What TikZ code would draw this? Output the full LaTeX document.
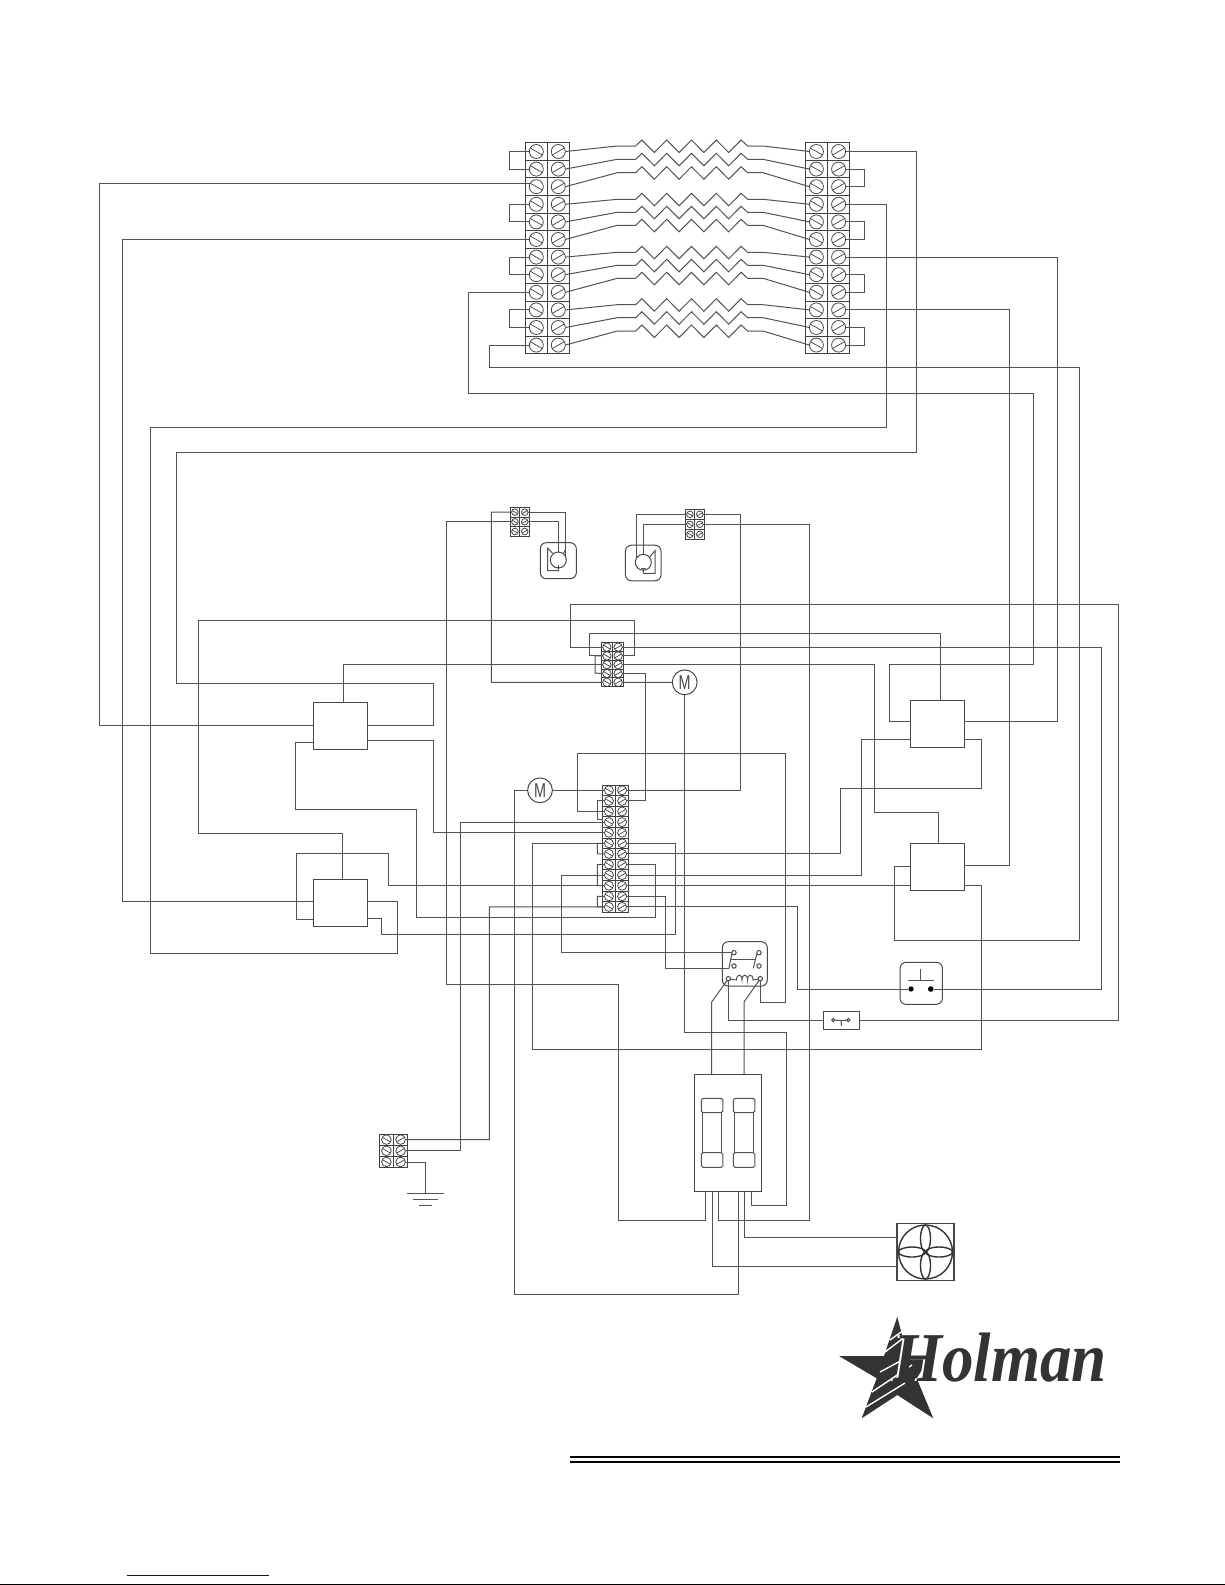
\documentclass[tikz,border=0pt]{standalone}
\usepackage{fontspec}
\newfontfamily\labelfont{Liberation Sans}
\newfontfamily\logofont{Liberation Serif}
\begin{document}
\begin{tikzpicture}[x=0.5pt,y=-0.5pt]
    \tikzstyle{wire}=[line width=0.5pt,color=black!68]
    \tikzstyle{strip}=[line width=0.42pt,color=black!75]
    \tikzstyle{every node}=[inner sep=0pt,outer sep=0pt,line width=0.5pt,color=black!72]
    \tikzstyle{screw}=[circle,draw,line width=0.4pt]
    \tikzstyle{relaybox}=[rectangle,draw,minimum width=27pt,minimum height=23.3pt]
    \tikzstyle{motor}=[circle,draw,minimum size=12.4pt,font=\labelfont\fontsize{10}{11}\selectfont]
    \tikzstyle{housing}=[rectangle,draw,rounded corners=3pt]
    \tikzstyle{contact}=[circle,draw,minimum size=2.2pt]
    \useasboundingbox (0,0) rectangle (1225,1585);
    %%%%% terminal strips
    \foreach \n/\xa/\ya/\cw/\rh/\rows/\sz in {l/525.3/142.7/22/17.6/12/7,r/805.3/142.7/22.2/17.6/12/7,p/510/507.3/9.85/9.67/3/3.3,q/685/509.3/9.85/10/3/3.3,c/601.3/642.7/11.2/8.8/5/4.2,d/602.3/785/13.2/10.6/12/4.5,g/379.3/1134/14.2/11.2/3/4.8}{
        \draw[strip] (\xa,\ya) rectangle ++(2*\cw,\rows*\rh);
        \draw[strip] (\xa+\cw,\ya) -- ++(0,\rows*\rh);
        \foreach \k in {1,...,\rows}{
            \draw[strip] (\xa,\ya+\k*\rh) -- ++(2*\cw,0);
            \node[screw,minimum size=\sz pt] (\n a\k) at (\xa+0.5*\cw,\ya+\k*\rh-0.5*\rh) {};
            \node[screw,minimum size=\sz pt] (\n b\k) at (\xa+1.5*\cw,\ya+\k*\rh-0.5*\rh) {};
            \draw[strip,line width=0.35pt] (\n a\k.150) -- (\n a\k.-30);
            \draw[strip,line width=0.35pt] (\n b\k.210) -- (\n b\k.30);
        }
    }
    %%%%% heaters
    \foreach \k/\y in {1/146,2/159.3,3/172.7,4/199.3,5/212.3,6/225.3,7/252.3,8/265.3,9/278.3,10/304.7,11/317.7,12/331}{
        \draw[wire] (lb\k.east) -- (617.3,\y) -- (635.7,\y) -- ++(6.2,-6)
            -- ++(12.4,12.5) -- ++(12.4,-12.5) -- ++(12.4,12.5) -- ++(12.4,-12.5)
            -- ++(12.4,12.5) -- ++(12.4,-12.5) -- ++(12.4,12.5) -- ++(12.4,-12.5)
            -- ++(6.5,6) -- (763,\y) -- (ra\k.west);
    }
    \foreach \k/\j in {1/2,4/5,7/8,10/11}{
        \draw[wire] (la\k.west) -- (la\k.west -| 509.3,0) |- (la\j.west);
    }
    \foreach \k/\j in {2/3,5/6,8/9,11/12}{
        \draw[wire] (rb\k.east) -- (rb\k.east -| 864.7,0) |- (rb\j.east);
    }
    %%%%% contactors
    \node[relaybox] (box1) at (340.3,726) {};
    \node[relaybox] (box2) at (340.3,902.7) {};
    \node[relaybox] (box3) at (937.2,723.7) {};
    \node[relaybox] (box4) at (937.2,867.2) {};
    \draw[wire] (rb1.east) -| (916,452) -| (176,683.3) -| (433,725) -- (box1.east |- 0,725);
    \draw[wire] (la3.150) -| (99,725) -- (box1.west |- 0,725);
    \draw[wire] (la6.west) -| (122.3,901.7) -- (box2.west |- 0,901.7);
    \draw[wire] (la9.west) -| (468,393) -| (1033.7,664.3) -| (889.3,721.3) -- (box3.west |- 0,721.3);
    \draw[wire] (la12.west) -| (489,367) -| (1079.3,940) -| (894.3,866) -- (box4.west |- 0,866);
    \draw[wire] (rb4.east) -| (886.7,427.5) -| (150.6,953.3) -| (397,901.7) -- (box2.east |- 0,901.7);
    \draw[wire] (rb7.east) -| (1057.3,721.3) -- (box3.east |- 0,721.3);
    \draw[wire] (rb10.east) -| (1009.3,865.3) -- (box4.east |- 0,865.3);
    %%%%% thermostats
    \node[housing,minimum size=18pt] (tb1) at (558.3,560.7) {};
    \node[housing,minimum size=17.8pt] (tb2) at (643.2,563) {};
    \node[circle,draw,minimum size=8pt] (th1) at (558.3,560) {};
    \node[circle,draw,minimum size=8pt] (th2) at (643.3,562.3) {};
    \draw[wire] (552.7,553.3) -- (547.7,548.3) -- (547.7,570.7) -- (559,570.7);
    \draw[wire] (566,548.3) -- (563.3,554);
    \draw[wire] (558.3,565) -- (558.3,570.7);
    \draw[wire] (556,567.3) -- (560.7,567.3);
    \draw[wire] (650,556.7) -- (655,550.7) -- (655,573.3) -- (643.3,573.3) -- (643.3,568.7);
    \draw[wire] (640.7,568.7) -- (645.7,568.7);
    \draw[wire] (pb1.east) -| (th1.30);
    \draw[wire] (pb2.east) -| (th1.north);
    \draw[wire] (qa1.west) -| (th2.150);
    \draw[wire] (qa2.west) -| (th2.north);
    %%%%% motors
    \node[motor] (m1) at (540,790.3) {\scalebox{0.72}[1]{M}};
    \node[motor] (m2) at (684.7,682.3) {\scalebox{0.72}[1]{M}};
    %%%%% relay, switch, push button
    \node[housing,minimum width=22.5pt,minimum height=22.2pt] (rly) at (744.8,963.9) {};
    \node[contact] (ct1) at (734,952.7) {};
    \node[contact] (ct2) at (759,952.7) {};
    \node[contact] (ct3) at (734,966) {};
    \node[contact] (ct4) at (759,966) {};
    \node[contact] (co1) at (728.3,978.7) {};
    \node[contact] (co2) at (760.3,978.7) {};
    \coordinate (bl1) at (729,968.3);
    \draw[wire] (bl1) -- (731.7,954);
    \draw[wire] (753.3,968.3) -- (756.7,954);
    \draw[wire] (730,959.3) -- (755,959.3);
    \draw[wire] (co1) -- (736.5,980) .. controls (736.5,973.5) and (742,973.5) .. (742,980)
        .. controls (742,973.5) and (747.5,973.5) .. (747.5,980)
        .. controls (747.5,973.5) and (753,973.5) .. (753,980) -- (co2);
    \node[rectangle,draw,minimum width=17.9pt,minimum height=9pt] (sw) at (841.2,1020.3) {};
    \node[contact,minimum size=1.6pt] (sc1) at (833.3,1020) {};
    \node[contact,minimum size=1.6pt] (sc2) at (848.3,1020) {};
    \draw[wire] (sc1) -- (842,1020.6) -- (sc2);
    \draw[wire] (841,1020.6) -- (841.5,1026);
    \node[housing,minimum width=21.2pt,minimum height=21pt] (btn) at (921.2,983.3) {};
    \node[circle,fill=black,minimum size=2.6pt] (dt1) at (911,989) {};
    \node[circle,fill=black,minimum size=2.8pt] (dt2) at (930.7,989) {};
    \draw[wire] (907.7,980.3) -- (934,980.3);
    \draw[wire] (920.3,969.3) -- (920.3,980.3);
    %%%%% fuses
    \node[rectangle,draw,minimum width=33.7pt,minimum height=58.7pt] (fuseblk) at (728,1133) {};
    \foreach \xa in {701.3,733.3}{
        \draw[wire,rounded corners=0.8pt] (\xa,1098.3) rectangle ++(21.5,14.4);
        \draw[wire,rounded corners=0.8pt] (\xa,1152.7) rectangle ++(21.5,14.6);
        \draw[wire] (\xa+1.4,1112.7) -- (\xa+1.4,1152.7);
        \draw[wire] (\xa+20.4,1112.7) -- (\xa+20.4,1152.7);
    }
    %%%%% fan
    \node[rectangle,draw,line width=0.7pt,minimum size=28.6pt] (fan) at (925.5,1252) {};
    \draw[line width=0.7pt,color=black!80] (fan.center) circle (27);
    \draw[line width=0.7pt,color=black!80] (925.5,1238.5) ellipse (5 and 13.5);
    \draw[line width=0.7pt,color=black!80] (925.5,1265.5) ellipse (5 and 13.5);
    \draw[line width=0.7pt,color=black!80] (912,1252) ellipse (13.5 and 5);
    \draw[line width=0.7pt,color=black!80] (939,1252) ellipse (13.5 and 5);
    %%%%% ground
    \coordinate (gnd) at (425.3,1193.3);
    \draw[wire] (407,1193.3) -- (444,1193.3);
    \draw[wire] (413,1199.3) -- (437.7,1199.3);
    \draw[wire] (419.3,1205.7) -- (431.7,1205.7);
    \draw[wire] (gb3.east) -| (gnd);
    %%%%% control wiring
    \draw[wire] (pa1.west) -| (491.3,682.3) -- (ca5.west);
    \draw[wire] (cb5.east) -- (m2.west);
    \draw[wire] (pa2.west) -| (446.3,984) -| (618.5,1220.7) -| (fuseblk.south -| 705.3,0);
    \draw[wire] (qb1.east) -| (740.7,790.3) -- (db1.east);
    \draw[wire] (qb2.east) -| (809.7,1220.7) -| (fuseblk.south -| 718.3,0);
    \draw[wire] (m2.south) |- (786.7,1032.3) -- (786.7,1205.3) -| (fuseblk.south -| 751.7,0);
    \draw[wire] (ca1.west) -| (570.3,604.7) -| (1118.8,1020.3) -- (sw.east);
    \draw[wire] (ca2.west) -| (589,633.3) -| (box3.north -| 940.3,0);
    \draw[wire] (ca3.west) -| (box1.north -| 343.3,0);
    \draw[wire] (ca2.west) -| (595,673.1) -- (ca4.west);
    \draw[wire] (cb1.east) -| (1101.3,989) -- (dt2.east);
    \draw[wire] (cb2.east) -| (634.7,620.7) -| (198,833.6) -| (box2.north -| 342.3,0);
    \draw[wire] (cb3.east) -| (874.7,812.3) -| (box4.north -| 938.7,0);
    \draw[wire] (cb4.east) -| (645.3,800.9) -- (db2.east);
    \draw[wire] (m1.east) -- (da1.west);
    \draw[wire] (m1.west) -| (514.7,1294.3) -| (fuseblk.south -| 738.3,0);
    \draw[wire] (da2.west) -| (597.3,819.3) -- (602.3,819.3);
    \draw[wire] (da3.west) -- (da3.west -| 597.3,0);
    \draw[wire] (da6.west) -| (597.3,853.9) -- (da7.west);
    \draw[wire] (da8.west) -| (597.3,885.7) -- (da10.west);
    \draw[wire] (da9.west) -- (da9.west -| 597.3,0);
    \draw[wire] (da11.west) -| (597.3,906.9) -- (da12.west);
    \draw[wire] (da3.west) -| (577.3,753) -| (785.7,1002) -| (co2.south);
    \draw[wire] (da4.west) -| (460.7,1150.8) -- (gb2.east);
    \draw[wire] (da5.west) -| (433.3,740.7) -- (box1.east |- 0,740.7);
    \draw[wire] (da6.west) -| (532.3,1049) -| (981.3,885.7) -- (box4.east |- 0,885.7);
    \draw[wire] (da9.west) -| (561.7,952.7) -- (ct1.west);
    \draw[wire] (da10.west) -| (388.3,853.3) -| (296.3,919.3) -- (box2.west |- 0,919.3);
    \draw[wire] (db10.east) -- (box4.west |- db10.east);
    \draw[wire] (gb1.east) -| (489.3,906.9) -- (da12.west);
    \draw[wire] (db6.east) -| (675.7,934) -| (381.7,918.7) -- (box2.east |- 0,918.7);
    \draw[wire] (db7.east) -| (840,788.3) -| (981.3,739) -- (box3.east |- 0,739);
    \draw[wire] (db8.east) -| (655,917) -| (416.7,809.3) -| (295.7,742) -- (box1.west |- 0,742);
    \draw[wire] (db9.east) -| (861.7,739.3) -- (box3.west |- 0,739.3);
    \draw[wire] (db11.east) -| (665.7,968.3) -- (bl1);
    \draw[wire] (db12.east) -| (797.4,989) -- (dt1.west);
    \draw[wire] (sw.west) -| (co1.south);
    \draw[wire] (fuseblk.north -| 711.7,0) -- (711.7,1002) -- (co1);
    \draw[wire] (fuseblk.north -| 744,0) -- (744,1002) -- (co2);
    \draw[wire] (fuseblk.south -| 744.7,0) |- (fan.west |- 0,1237.3);
    \draw[wire] (fuseblk.south -| 712,0) |- (fan.west |- 0,1266.7);
    %%%%% logo
    \fill[black!80] (897.3,1316.7) -- (907.3,1356) -- (930,1357) -- (916.7,1378.3) -- (933.3,1418.3) -- (897.3,1395) -- (861.7,1418.3) -- (876.7,1378.3) -- (839,1356) -- (884,1356) -- cycle;
    \draw[white,line width=0.7pt] (866,1407) -- (905,1383);
    \draw[white,line width=0.7pt] (872,1392) -- (912,1365);
    \draw[white,line width=0.7pt] (880,1372) -- (930,1345);
    \draw[white,line width=0.7pt] (885,1352) -- (906,1336);
    \draw[white,line width=0.7pt] (890,1340) -- (904,1330);
    \node[anchor=base west,color=white] (halo) at (891.6,1381) {\scalebox{0.9}[1]{\fontsize{35}{36}\logofont\bfseries\itshape Holman}};
    \node[anchor=base west,color=black!80] (logo) at (893,1381) {\scalebox{0.9}[1]{\fontsize{35}{36}\logofont\bfseries\itshape Holman}};
    %%%%% rules
    \draw[black,line width=1pt] (570,1456.7) -- (1120,1456.7);
    \draw[black,line width=1pt] (570,1461.7) -- (1120,1461.7);
    \draw[blue!80!black,line width=0.5pt] (127,1575) -- (269,1575);
    \draw[black,line width=0.6pt] (0,1584.3) -- (1225,1584.3);
\end{tikzpicture}
\end{document}
